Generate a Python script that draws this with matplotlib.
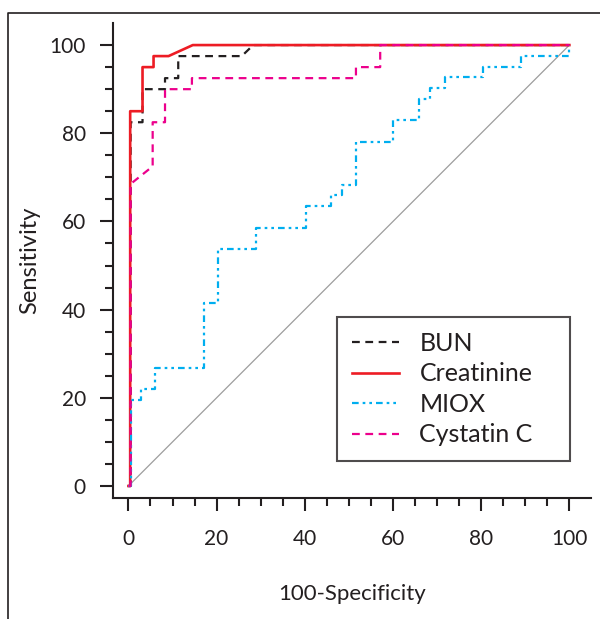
import matplotlib.pyplot as plt
from matplotlib.lines import Line2D

plt.rcParams['font.family'] = ['Lato', 'DejaVu Sans']

# ROC curves (100-specificity, sensitivity)
bun_x = [0, 0.5, 0.5, 3.2, 3.2, 8.3, 8.3, 11.3, 11.3, 25.7, 28.3, 100]
bun_y = [0, 0, 82.5, 82.5, 90, 90, 92.5, 92.5, 97.5, 97.5, 100, 100]

creat_x = [0, 0.4, 0.4, 3.2, 3.2, 5.7, 5.7, 9.1, 14.6, 100]
creat_y = [0, 0, 85, 85, 95, 95, 97.5, 97.5, 100, 100]

miox_x = [0, 0.5, 0.5, 2.8, 2.8, 6.1, 6.1, 17.2, 17.2, 20.3, 20.3, 28.9, 28.9,
          40.2, 40.2, 45.9, 45.9, 48.5, 48.5, 51.6, 51.6, 60.1, 60.1, 66.0, 66.0,
          68.3, 68.3, 71.7, 71.7, 80.4, 80.4, 89.0, 89.0, 100, 100]
miox_y = [0, 0, 19.5, 19.5, 22.0, 22.0, 26.8, 26.8, 41.5, 41.5, 53.7, 53.7, 58.5,
          58.5, 63.4, 63.4, 65.9, 65.9, 68.3, 68.3, 78.0, 78.0, 82.9, 82.9, 87.8,
          87.8, 90.2, 90.2, 92.7, 92.7, 95.1, 95.1, 97.6, 97.6, 100]

cys_x = [0, 0.5, 0.5, 5.5, 5.5, 8.3, 8.3, 14.4, 14.4, 51.6, 51.6, 57.1, 57.1, 100]
cys_y = [0, 0, 68.5, 72.5, 82.5, 82.5, 90, 90, 92.5, 92.5, 95, 95, 100, 100]

ticks = [0, 20, 40, 60, 80, 100]

fig = plt.figure(figsize=(6.0, 6.19), dpi=100)
ax = fig.add_axes([0.1883, 0.196, 0.7974, 0.7668])

# diagonal reference
ax.plot([0, 100], [0, 100], color="#9d9d9d", lw=0.9)

ax.plot(bun_x, bun_y, color="#231f20", lw=1.6, ls=(0, (3.5, 2.5)), label="BUN")
ax.plot(creat_x, creat_y, color="#ed1c24", lw=1.9, label="Creatinine")
ax.plot(miox_x, miox_y, color="#00aeef", lw=1.6,
        ls=(0, (3, 1.8, 1.2, 1.8, 1.2, 1.8)), label="MIOX")
ax.plot(cys_x, cys_y, color="#ec008c", lw=1.6, ls=(0, (3.5, 2.5)), label="Cystatin C")

ax.set_xlim(-3.5, 105)
ax.set_ylim(-2.65, 105)
ax.set_xticks(ticks)
ax.set_yticks(ticks)
ax.set_xticks(range(0, 101, 5), minor=True)
ax.set_yticks(range(0, 101, 5), minor=True)
for s in ["top", "right"]:
    ax.spines[s].set_visible(False)
for s in ["left", "bottom"]:
    ax.spines[s].set_linewidth(1.5)
    ax.spines[s].set_color("#231f20")
ax.tick_params(which="major", length=9.5, width=1.5, color="#231f20",
               labelsize=15, labelcolor="#231f20")
ax.tick_params(which="minor", length=5.5, width=1.5, color="#231f20")
ax.tick_params(axis="y", which="major", pad=10)
ax.tick_params(axis="x", which="major", pad=13)

ax.set_xlabel("100-Specificity", fontsize=16, color="#231f20", labelpad=25)
ax.set_ylabel("Sensitivity", fontsize=17, color="#231f20", labelpad=7)

leg = ax.legend(loc="upper left", bbox_to_anchor=(0.468, 0.0, 0.487, 0.3807),
                mode="expand", fontsize=18, frameon=True, fancybox=False,
                edgecolor="#231f20", handlelength=1.9, handletextpad=0.8,
                labelspacing=0.3, borderpad=0.6, borderaxespad=0)
leg.get_frame().set_linewidth(1.5)
for t in leg.get_texts():
    t.set_color("#231f20")

# outer frame of the panel (left and top edges visible)
fig.add_artist(Line2D([8 / 600, 8 / 600, 1.02], [-0.02, 0.9795, 0.9795],
                      transform=fig.transFigure, color="#231f20", lw=1.2))

fig.savefig("out.png", dpi=100)
